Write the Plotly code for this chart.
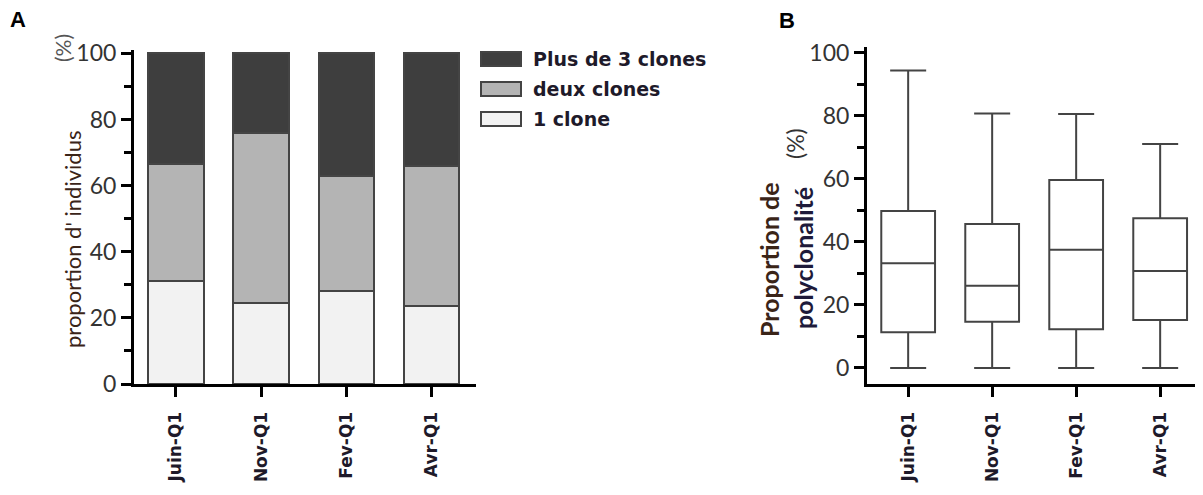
import plotly.graph_objects as go

# ---- data ----
categories = ["Juin-Q1", "Nov-Q1", "Fev-Q1", "Avr-Q1"]
one_clone = [31.0, 24.5, 28.0, 23.5]
two_clones = [35.5, 51.5, 35.0, 42.5]
three_plus = [33.5, 24.0, 37.0, 34.0]
series_names = ["1 clone", "deux clones", "Plus de 3 clones"]

poly_min = [0, 0, 0, 0]
poly_q1 = [11.3, 14.7, 12.3, 15.2]
poly_median = [33.2, 26.1, 37.5, 30.8]
poly_q3 = [49.8, 45.7, 59.7, 47.5]
poly_max = [94.4, 80.8, 80.6, 71.1]

y_ticks = [0, 20, 40, 60, 80, 100]

W, H = 1203, 495
OFF = 8  # default page body margin
def px(x): return (x - OFF) / W
def py(y): return 1 - (y - OFF) / H

colors = {"1 clone": "#f2f2f2", "deux clones": "#b4b4b4", "Plus de 3 clones": "#3e3e3e"}
edge = "#444444"
txt = "#1e1a2a"
tickfont = dict(family="Lato, Liberation Sans, Arial", size=23, color="#333333")
catfont = dict(family="DejaVu Sans, Liberation Sans, Arial", size=17, color=txt)
cat_text = ["<b>" + c + "</b>" for c in categories]

fig = go.Figure()
for name, vals in zip(series_names, [one_clone, two_clones, three_plus]):
    fig.add_trace(go.Bar(x=categories, y=vals, name=name, width=0.65,
                         marker=dict(color=colors[name], line=dict(color=edge, width=2)),
                         xaxis="x", yaxis="y", showlegend=False))

for i, c in enumerate(categories):
    fig.add_trace(go.Box(x=[c], q1=[poly_q1[i]], median=[poly_median[i]], q3=[poly_q3[i]],
                         lowerfence=[poly_min[i]], upperfence=[poly_max[i]],
                         width=0.64, whiskerwidth=0.67, fillcolor="white",
                         line=dict(color=edge, width=2), boxpoints=False,
                         xaxis="x2", yaxis="y2", showlegend=False))

axis_common = dict(showline=True, linecolor="black", linewidth=3, ticks="outside",
                   ticklen=10, tickwidth=2.5, tickcolor="black", showgrid=False,
                   zeroline=False, automargin=False)
minor = dict(dtick=10, ticklen=7, tickwidth=2.5, tickcolor="black", ticks="outside")

fig.update_layout(
    width=W, height=H, margin=dict(l=0, r=0, t=0, b=0),
    paper_bgcolor="white", plot_bgcolor="white", barmode="stack", showlegend=False,
    xaxis=dict(domain=[px(134), px(476)], range=[-0.49, 3.52], tickangle=-90,
               tickvals=categories, ticktext=cat_text, tickfont=catfont, anchor="y",
               ticklabelstandoff=8, **axis_common),
    yaxis=dict(domain=[py(384), py(50)], range=[0, 101], tickvals=y_ticks,
               tickfont=tickfont, anchor="x", minor=minor, **axis_common),
    xaxis2=dict(domain=[px(867), 1.0], range=[-0.49, 3.51 + OFF / 84], tickangle=-90,
                tickvals=categories, ticktext=cat_text, tickfont=catfont, anchor="y2",
                ticklabelstandoff=8, **axis_common),
    yaxis2=dict(domain=[py(384), py(47)], range=[-5.1, 101.9], tickvals=y_ticks,
                tickfont=tickfont, anchor="x2", minor=minor, **axis_common),
)

def rot(x, y, text, size, color):
    return dict(x=px(x), y=py(y), text=text, textangle=-90, showarrow=False,
                xref="paper", yref="paper", xanchor="center", yanchor="middle",
                font=dict(family="Lato, Liberation Sans", size=size, color=color))

ann = []
ann.append(dict(x=px(18), y=py(19), text="<b>A</b>", showarrow=False, xref="paper", yref="paper",
                xanchor="center", yanchor="middle",
                font=dict(family="Liberation Sans, Arial", size=22, color="black")))
ann.append(dict(x=px(787), y=py(21), text="<b>B</b>", showarrow=False, xref="paper", yref="paper",
                xanchor="center", yanchor="middle",
                font=dict(family="Liberation Sans, Arial", size=22, color="black")))
ann.append(rot(72, 240, "proportion d' individus", 22, "#3a2418"))
ann.append(rot(63, 48, "(%)", 21, "#555555"))
ann.append(rot(769, 260, "<b>Proportion de</b>", 25, "#3a2418"))
ann.append(rot(803, 258, "<b>polyclonalité</b>", 25, "#1e1a3a"))
ann.append(rot(795, 144, "(%)", 23, "#333333"))

# legend drawn manually (top to bottom: Plus de 3, deux, 1)
shapes = []
leg_rows = [("Plus de 3 clones", 59), ("deux clones", 89), ("1 clone", 119)]
for name, yc in leg_rows:
    shapes.append(dict(type="rect", xref="paper", yref="paper",
                       x0=px(481), x1=px(521), y0=py(yc - 7), y1=py(yc + 7),
                       fillcolor=colors[name], line=dict(color=edge, width=2)))
    ann.append(dict(x=px(531), y=py(yc), text="<b>" + name + "</b>", showarrow=False,
                    xref="paper", yref="paper", xanchor="left", yanchor="middle",
                    font=dict(family="DejaVu Sans, Liberation Sans, Arial", size=19, color=txt)))

fig.update_layout(annotations=ann, shapes=shapes)
fig.write_html("out.html")
